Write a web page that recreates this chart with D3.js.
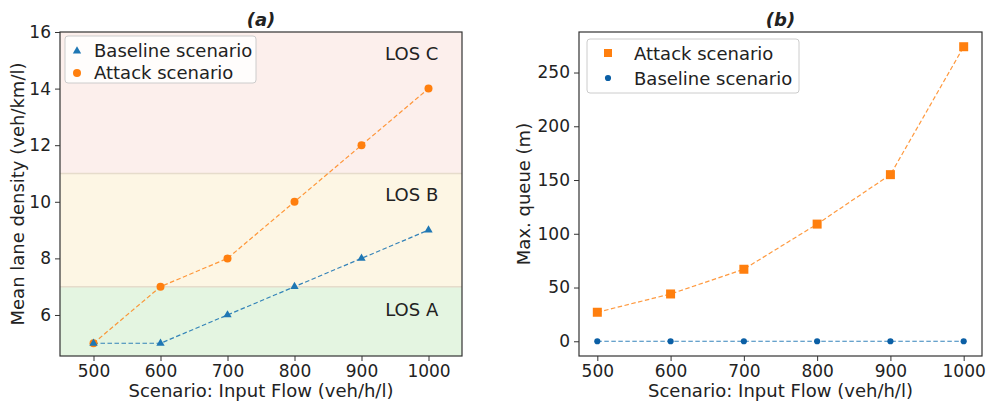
<!DOCTYPE html>
<html>
<head>
<meta charset="utf-8">
<script src="https://cdn.jsdelivr.net/npm/d3@7"></script>
<style>
  body { margin: 0; background: #fff; }
  text { font-family: "DejaVu Sans", sans-serif; fill: #222; }
</style>
</head>
<body>
<div id="chart"></div>
<script>
// data
var flows = [500, 600, 700, 800, 900, 1000];
var densityBaseline = [5, 5, 6, 7, 8, 9];
var densityAttack = [5, 7, 8, 10, 12, 14];
var queueAttack = [27, 44, 67, 109, 155, 274];
var queueBaseline = [0, 0, 0, 0, 0, 0];
var losBands = [
  { name: "LOS A", lo: 4.55, hi: 7, color: "#e4f5e1", labelAt: 6.2 },
  { name: "LOS B", lo: 7, hi: 11, color: "#fdf6e4", labelAt: 10.25 },
  { name: "LOS C", lo: 11, hi: 16, color: "#fcefec", labelAt: 15.25 }
];
var densityTicks = [6, 8, 10, 12, 14, 16];
var queueTicks = [0, 50, 100, 150, 200, 250];

var orange = "#ff7f0e";
var blue = "#1f77b4";
var darkBlue = "#0b5fa5";
var fs = "18px";

var svg = d3.select("#chart").append("svg")
  .attr("width", 989)
  .attr("height", 405);

function drawAxes(g, x, y, yTicks, w, h) {
  var bottomAxis = d3.axisBottom(x).tickValues(flows).tickFormat(d3.format("d")).tickSize(5).tickPadding(4);
  var leftAxis = d3.axisLeft(y).tickValues(yTicks).tickFormat(d3.format("d")).tickSize(5).tickPadding(4);
  var gx = g.append("g").attr("transform", "translate(0," + h + ")").call(bottomAxis);
  var gy = g.append("g").call(leftAxis);
  [gx, gy].forEach(function(a) {
    a.select(".domain").remove();
    a.selectAll("line").attr("stroke", "#333").attr("stroke-width", 1);
    a.selectAll("text").style("font-size", "17px").attr("fill", "#222");
  });
  g.append("rect")
    .attr("width", w).attr("height", h)
    .attr("fill", "none").attr("stroke", "#333").attr("stroke-width", 1.2);
}

// ---- panel (a)
var a = { left: 60, top: 32, w: 402, h: 324 };
var ga = svg.append("g").attr("transform", "translate(" + a.left + "," + a.top + ")");
var xa = d3.scaleLinear().domain([450, 1050]).range([0, a.w]);
var ya = d3.scaleLinear().domain([4.55, 16]).range([a.h, 0]);

ga.selectAll(".band").data(losBands).enter().append("rect")
  .attr("x", 0).attr("width", a.w)
  .attr("y", function(d) { return ya(d.hi); })
  .attr("height", function(d) { return ya(d.lo) - ya(d.hi); })
  .attr("fill", function(d) { return d.color; });
ga.selectAll(".bandline").data([7, 11]).enter().append("line")
  .attr("x1", 0).attr("x2", a.w)
  .attr("y1", function(d) { return ya(d); }).attr("y2", function(d) { return ya(d); })
  .attr("stroke", "#e6dccb").attr("stroke-width", 1.5);
ga.selectAll(".loslabel").data(losBands).enter().append("text")
  .attr("x", xa(975)).attr("y", function(d) { return ya(d.labelAt); })
  .attr("text-anchor", "middle").attr("dominant-baseline", "central").style("font-size", fs)
  .text(function(d) { return d.name; });

var linea = d3.line().x(function(d, i) { return xa(flows[i]); }).y(function(d) { return ya(d); });
ga.append("path").datum(densityAttack).attr("d", linea)
  .attr("fill", "none").attr("stroke", orange).attr("stroke-width", 1.2).attr("stroke-dasharray", "4.5,2.5").attr("opacity", 0.8);
ga.append("path").datum(densityBaseline).attr("d", linea)
  .attr("fill", "none").attr("stroke", blue).attr("stroke-width", 1.2).attr("stroke-dasharray", "4.5,2.5").attr("opacity", 0.9);
ga.selectAll(".pa").data(densityAttack).enter().append("circle")
  .attr("cx", function(d, i) { return xa(flows[i]); })
  .attr("cy", function(d) { return ya(d); })
  .attr("r", 4).attr("fill", orange);
var tri = d3.symbol().type(d3.symbolTriangle).size(30);
ga.selectAll(".pb").data(densityBaseline).enter().append("path")
  .attr("d", tri)
  .attr("transform", function(d, i) { return "translate(" + xa(flows[i]) + "," + ya(d) + ")"; })
  .attr("fill", blue);

drawAxes(ga, xa, ya, densityTicks, a.w, a.h);

// legend (a)
var la = ga.append("g").attr("transform", "translate(5,4)");
la.append("rect").attr("width", 191).attr("height", 47).attr("rx", 3)
  .attr("fill", "#fff").attr("fill-opacity", 0.85).attr("stroke", "#ccc");
la.append("path").attr("d", tri).attr("transform", "translate(12,15)").attr("fill", blue);
la.append("text").attr("x", 29).attr("y", 21).style("font-size", fs).text("Baseline scenario");
la.append("circle").attr("cx", 12).attr("cy", 37).attr("r", 4).attr("fill", orange);
la.append("text").attr("x", 29).attr("y", 43).style("font-size", fs).text("Attack scenario");

ga.append("text").attr("x", a.w / 2).attr("y", -6).attr("text-anchor", "middle")
  .style("font-size", fs).style("font-weight", "bold").style("font-style", "italic").text("(a)");
ga.append("text").attr("x", a.w / 2).attr("y", a.h + 41).attr("text-anchor", "middle")
  .style("font-size", fs).text("Scenario: Input Flow (veh/h/l)");
ga.append("text").attr("transform", "rotate(-90)")
  .attr("x", -a.h / 2).attr("y", -36).attr("text-anchor", "middle")
  .style("font-size", fs).text("Mean lane density (veh/km/l)");

// ---- panel (b)
var b = { left: 579, top: 32, w: 403, h: 324 };
var gb = svg.append("g").attr("transform", "translate(" + b.left + "," + b.top + ")");
var xb = d3.scaleLinear().domain([475, 1025]).range([0, b.w]);
var yb = d3.scaleLinear().domain([-13.7, 287.7]).range([b.h, 0]);

var lineb = d3.line().x(function(d, i) { return xb(flows[i]); }).y(function(d) { return yb(d); });
gb.append("path").datum(queueAttack).attr("d", lineb)
  .attr("fill", "none").attr("stroke", orange).attr("stroke-width", 1.2).attr("stroke-dasharray", "4.5,2.5").attr("opacity", 0.8);
gb.append("path").datum(queueBaseline).attr("d", lineb)
  .attr("fill", "none").attr("stroke", blue).attr("stroke-width", 1.2).attr("stroke-dasharray", "4.5,2.5").attr("opacity", 0.9);
gb.selectAll(".qa").data(queueAttack).enter().append("rect")
  .attr("x", function(d, i) { return xb(flows[i]) - 4.5; })
  .attr("y", function(d) { return yb(d) - 4.5; })
  .attr("width", 9).attr("height", 9).attr("fill", orange);
var pent = d3.symbol().type(d3.symbolCircle).size(30);
gb.selectAll(".qb").data(queueBaseline).enter().append("path")
  .attr("d", pent)
  .attr("transform", function(d, i) { return "translate(" + xb(flows[i]) + "," + yb(d) + ")"; })
  .attr("fill", darkBlue);

drawAxes(gb, xb, yb, queueTicks, b.w, b.h);

var lb = gb.append("g").attr("transform", "translate(8,7)");
lb.append("rect").attr("width", 212).attr("height", 54).attr("rx", 3)
  .attr("fill", "#fff").attr("stroke", "#ccc");
lb.append("rect").attr("x", 17).attr("y", 10).attr("width", 8).attr("height", 8).attr("fill", orange);
lb.append("text").attr("x", 47).attr("y", 21).style("font-size", fs).text("Attack scenario");
lb.append("path").attr("d", pent).attr("transform", "translate(21,39)").attr("fill", darkBlue);
lb.append("text").attr("x", 47).attr("y", 46).style("font-size", fs).text("Baseline scenario");

gb.append("text").attr("x", b.w / 2).attr("y", -6).attr("text-anchor", "middle")
  .style("font-size", fs).style("font-weight", "bold").style("font-style", "italic").text("(b)");
gb.append("text").attr("x", b.w / 2).attr("y", b.h + 41).attr("text-anchor", "middle")
  .style("font-size", fs).text("Scenario: Input Flow (veh/h/l)");
gb.append("text").attr("transform", "rotate(-90)")
  .attr("x", -b.h / 2).attr("y", -49).attr("text-anchor", "middle")
  .style("font-size", fs).text("Max. queue (m)");
</script>
</body>
</html>
